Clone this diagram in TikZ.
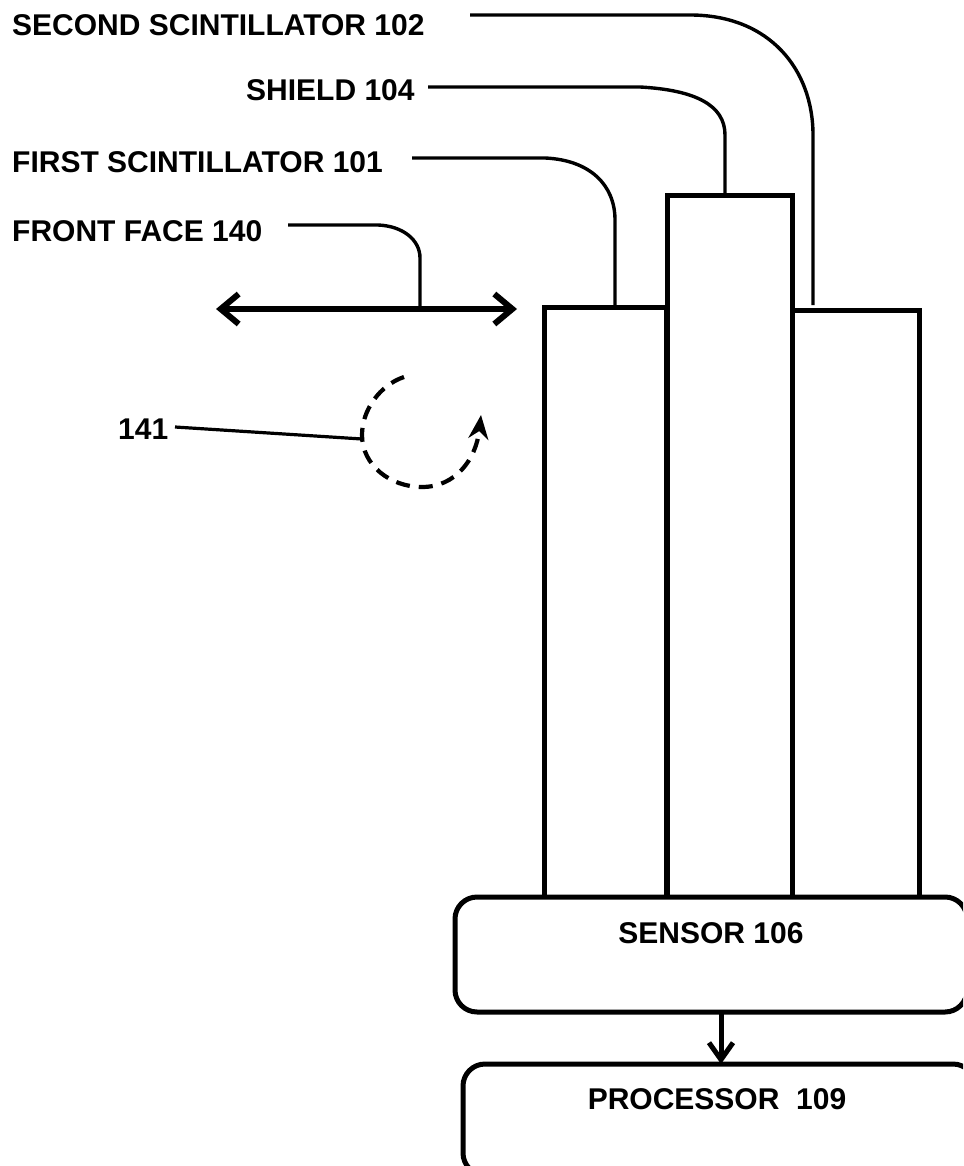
\documentclass[tikz,border=0pt]{standalone}
\usepackage{fontspec}
\setmainfont{Liberation Sans}
\usetikzlibrary{arrows.meta,calc}
\tikzset{
  box/.style={draw=black,line width=5pt,inner sep=0pt,outer sep=0pt,minimum width=#1},
  roundbox/.style={draw=black,line width=5pt,rounded corners=22pt,inner sep=0pt,outer sep=0pt},
  lab/.style={font=\fontsize{30}{36}\selectfont\bfseries,inner sep=0pt,anchor=base west},
  clab/.style={font=\fontsize{30}{36}\selectfont\bfseries,inner sep=0pt,anchor=base},
  leader/.style={draw=black,line width=3.4pt},
  bigarrow/.style={draw=black,line width=6pt,{Straight Barb[length=18pt,width=30pt,line width=6pt]}-{Straight Barb[length=18pt,width=30pt,line width=6pt]}},
  downarrow/.style={draw=black,line width=5pt,-{Straight Barb[length=17pt,width=24pt,line width=5pt]}},
}
\begin{document}
\begin{tikzpicture}[x=1pt,y=-1pt]
\useasboundingbox (0,0) rectangle (963,1166);
\clip (0,0) rectangle (963,1166);
% scintillators and shield
\node[box=122pt,minimum height=590pt,anchor=north west] (first) at (544,307) {};
\node[box=125pt,minimum height=701pt,anchor=north west] (shield) at (667,196) {};
\node[box=127pt,minimum height=587pt,anchor=north west] (second) at (792,310) {};
% sensor, processor
\node[roundbox,minimum width=512pt,minimum height=115pt,anchor=north west,fill=white] (sensor) at (455,897) {};
\node[roundbox,minimum width=512pt,minimum height=111pt,anchor=north west,fill=white] (processor) at (463,1064) {};
\node[clab] (sensorlab) at (711,943) {SENSOR 106};
\node[clab] (processorlab) at (717,1109) {PROCESSOR\ \ 109};
\coordinate (ax) at (721,0);
\draw[downarrow] (sensor.south -| ax) -- (processor.north -| ax);
% labels
\node[lab] (l102) at (12,36) {SECOND SCINTILLATOR 102};
\node[lab] (l104) at (246,101) {SHIELD 104};
\node[lab] (l101) at (12,173) {FIRST SCINTILLATOR 101};
\node[lab] (l140) at (12,241) {FRONT FACE 140};
\node[lab] (l141) at (118,439) {141};
% leaders
\coordinate (s102) at (470,15);
\coordinate (e102) at (813,305);
\draw[leader] (s102) -- (690,15) .. controls (770,15) and (813,70) .. (813,135) -- (e102);
\coordinate (s104) at (428,87);
\coordinate (e104) at (725,194);
\draw[leader] (s104) -- (640,87) .. controls (695,90) and (725,105) .. (725,135) -- (e104);
\coordinate (s101) at (412,158);
\coordinate (e101) at (615,305);
\draw[leader] (s101) -- (545,158) .. controls (590,160) and (615,185) .. (615,220) -- (e101);
\coordinate (s140) at (288,225);
\coordinate (e140) at (420,309);
\draw[leader] (s140) -- (378,225) .. controls (403,226) and (420,240) .. (420,258) -- (e140);
% front face
\coordinate (fl) at (216,309);
\coordinate (fr) at (517,309);
\draw[bigarrow] (fl) -- (fr);
% rotation
\coordinate (s141) at (175,427);
\coordinate (e141) at (362,439);
\draw[draw=black,line width=3.2pt] (s141) -- (e141);
\draw[draw=black,line width=4.2pt,dash pattern=on 14pt off 9pt,-{Stealth[length=24pt,width=20pt]}]
  (404,377) .. controls (380,385) and (362,410) .. (362,435)
  .. controls (362,465) and (390,487) .. (422,487)
  .. controls (455,487) and (476,460) .. (481,415);
\end{tikzpicture}
\end{document}
